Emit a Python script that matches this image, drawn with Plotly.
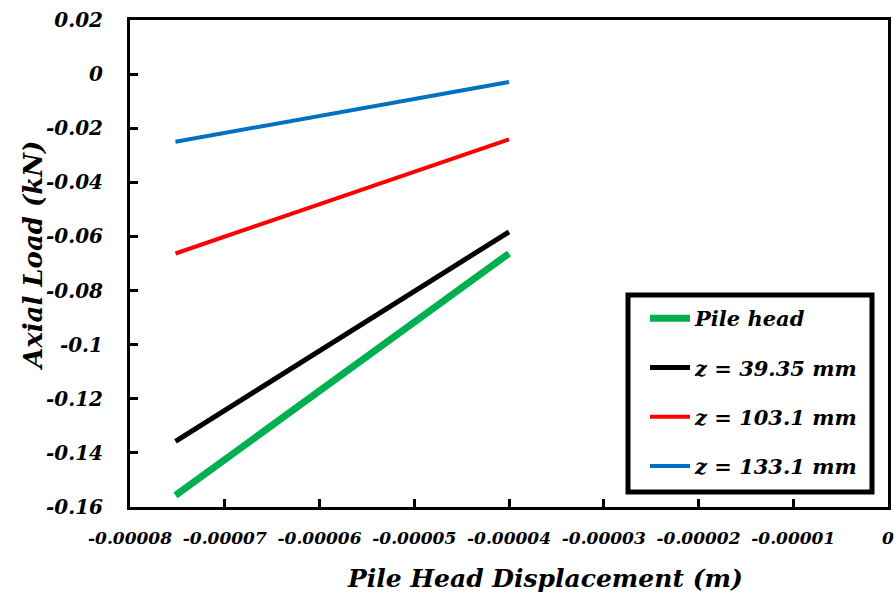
import plotly.graph_objects as go

# Data
x_disp = [-0.0000752, -0.00004]
pile_head = [-0.1557, -0.0663]
z_39_35 = [-0.1357, -0.0583]
z_103_1 = [-0.0663, -0.0241]
z_133_1 = [-0.0250, -0.0029]

series_names = ["Pile head", "z = 39.35 mm", "z = 103.1 mm", "z = 133.1 mm"]
series_vals = [pile_head, z_39_35, z_103_1, z_133_1]
series_colors = ["#00B050", "#000000", "#FF0000", "#0070C0"]
series_widths = [7, 5, 4, 4]

x_tickvals = [-0.00008, -0.00007, -0.00006, -0.00005, -0.00004, -0.00003, -0.00002, -0.00001, 0]
x_ticktext = ["-0.00008", "-0.00007", "-0.00006", "-0.00005", "-0.00004", "-0.00003", "-0.00002", "-0.00001", "0"]
y_tickvals = [0.02, 0, -0.02, -0.04, -0.06, -0.08, -0.1, -0.12, -0.14, -0.16]
y_ticktext = ["0.02", "0", "-0.02", "-0.04", "-0.06", "-0.08", "-0.1", "-0.12", "-0.14", "-0.16"]

FONT = "DejaVu Serif"

PL, PR, PT, PB = 130, 888, 20, 507  # plot area in pixels
PW, PH = PR - PL, PB - PT


def px(x):
    return (x - PL) / PW


def py(y):
    return (PB - y) / PH


fig = go.Figure()
for i, (name, vals, col, w) in enumerate(zip(series_names, series_vals, series_colors, series_widths)):
    fig.add_trace(go.Scatter(
        x=x_disp, y=vals, mode="lines", name=name,
        line=dict(color=col, width=w),
        legendgroup=f"g{i}",
    ))

fig.update_xaxes(
    range=[-0.00008, 0], tickvals=x_tickvals, ticktext=x_ticktext,
    showgrid=False, zeroline=False,
    showline=True, linecolor="black", linewidth=3, mirror=True,
    ticks="inside", ticklen=8, tickwidth=3, tickcolor="black",
    tickfont=dict(family=FONT, size=17, color="black", weight="bold", style="italic"),
    tickangle=0, automargin=False, ticklabelstandoff=14,
    ticklabeloverflow="allow",
)
fig.update_yaxes(
    range=[-0.16, 0.02], tickvals=y_tickvals, ticktext=y_ticktext,
    showgrid=False, zeroline=False,
    showline=True, linecolor="black", linewidth=3, mirror=True,
    ticks="inside", ticklen=8, tickwidth=3, tickcolor="black",
    tickfont=dict(family=FONT, size=20, color="black", weight="bold", style="italic"),
    automargin=False, ticklabelstandoff=20,
)

fig.add_annotation(
    text="Pile Head Displacement (m)", xref="paper", yref="paper",
    x=px(545), y=py(578), showarrow=False,
    xanchor="center", yanchor="middle",
    font=dict(family=FONT, size=25, color="black", weight="bold", style="italic"),
)
fig.add_annotation(
    text="Axial Load (kN)", xref="paper", yref="paper",
    x=px(33), y=py(256), showarrow=False,
    textangle=-90, xanchor="center", yanchor="middle",
    font=dict(family=FONT, size=26, color="black", weight="bold", style="italic"),
)

# legend frame
fig.add_shape(
    type="rect", xref="paper", yref="paper",
    x0=px(628), x1=px(872), y0=py(492), y1=py(295),
    line=dict(color="black", width=5), fillcolor="rgba(0,0,0,0)", layer="above",
)

fig.update_layout(
    width=894, height=596,
    margin=dict(l=PL, r=894 - PR, t=PT, b=596 - PB, autoexpand=False),
    paper_bgcolor="white", plot_bgcolor="white",
    showlegend=True,
    legend=dict(
        x=px(645), y=py(298), xanchor="left", yanchor="top",
        borderwidth=0, bgcolor="rgba(0,0,0,0)",
        font=dict(family=FONT, size=21, color="black", weight="bold", style="italic"),
        tracegroupgap=19, traceorder="grouped",
        itemwidth=40,
    ),
)

fig.write_html(
    "out.html",
    config={"displayModeBar": False},
    post_script="document.body.style.margin='0px';document.body.style.overflow='hidden';",
)
